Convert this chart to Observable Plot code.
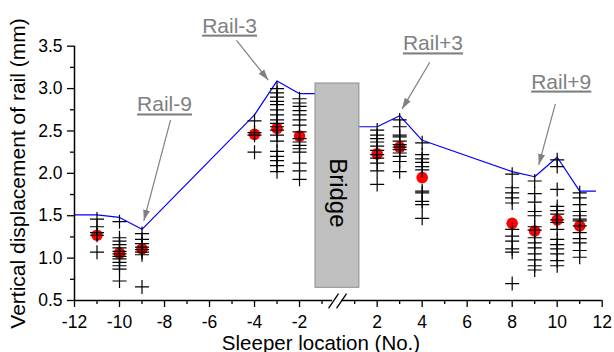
<!DOCTYPE html>
<html><head><meta charset="utf-8">
<script src="https://cdn.jsdelivr.net/npm/d3@7"></script>
<script src="https://cdn.jsdelivr.net/npm/@observablehq/plot@0.6"></script>
<style>
body{margin:0;background:#fff;}
#chart svg{display:block;}
</style></head><body><div id="chart"></div>
<script>
// ---- data (sleeper location No., vertical displacement mm) ----
const envelopeX = [-12, -11, -10, -9, -4, -3, -2, -1.29, null, 1.21, 2, 3, 4, 8, 9, 10, 11, 11.7];
const envelopeY = [1.51, 1.51, 1.48, 1.34, 2.69, 3.09, 2.94, 2.94, null, 2.55, 2.55, 2.68, 2.39, 2.02, 1.96, 2.19, 1.79, 1.79];

const meanX = [-11, -10, -9, -4, -3, -2, 2, 3, 4, 8, 9, 10, 11];
const meanY = [1.27, 1.06, 1.11, 2.46, 2.53, 2.44, 2.23, 2.31, 1.95, 1.41, 1.32, 1.45, 1.38];

const crossLocations = [-11, -10, -9, -4, -3, -2, 2, 3, 4, 8, 9, 10, 11];
const crossValues = [
  [1.46, 1.37, 1.30, 1.27, 1.07],
  [1.43, 1.24, 1.20, 1.16, 1.12, 1.08, 1.05, 1.02, 0.99, 0.95, 0.91, 0.87, 0.73],
  [1.29, 1.22, 1.17, 1.13, 1.10, 1.07, 1.04, 0.66],
  [2.62, 2.48, 2.45, 2.25],
  [3.00, 2.95, 2.90, 2.85, 2.81, 2.75, 2.69, 2.63, 2.59, 2.55, 2.51, 2.45, 2.38, 2.26, 2.20, 2.15, 2.09, 2.02],
  [2.88, 2.83, 2.79, 2.74, 2.69, 2.63, 2.57, 2.49, 2.41, 2.37, 2.33, 2.29, 2.25, 2.12, 2.03, 1.93],
  [2.51, 2.45, 2.41, 2.37, 2.32, 2.27, 2.22, 2.18, 2.12, 2.03, 1.87],
  [2.63, 2.55, 2.45, 2.43, 2.38, 2.34, 2.31, 2.28, 2.24, 2.20, 2.14, 2.02],
  [2.36, 2.22, 2.17, 2.13, 2.08, 2.04, 1.79, 1.77, 1.67, 1.63, 1.47],
  [1.99, 1.83, 1.77, 1.71, 1.65, 1.34, 1.26, 1.20, 1.11, 1.07, 0.70],
  [1.91, 1.76, 1.66, 1.55, 1.50, 1.37, 1.33, 1.24, 1.18, 1.12, 1.05, 0.98, 0.91, 0.86],
  [2.16, 2.08, 1.81, 1.61, 1.56, 1.52, 1.45, 1.42, 1.34, 1.22, 1.16, 1.11, 1.05, 0.97, 0.91],
  [1.77, 1.71, 1.63, 1.55, 1.50, 1.46, 1.44, 1.38, 1.30, 1.23, 1.18, 1.09, 1.01]
];

const bridgeSpan = [-1.29, 1.21];
const bridgeLevels = [0.65, 3.06];
const bridgeLabel = ["Bridge"];
const bridgeLabelPos = [-0.31, 1.77];

const railLabels = ["Rail-9", "Rail-3", "Rail+3", "Rail+9"];
const railLabelX = [-8.0, -5.11, 4.48, 10.18];
const railLabelY = [2.81, 3.74, 3.53, 3.08];
const arrowFromX = [-7.73, -4.8, 4.34, 9.92];
const arrowFromY = [2.63, 3.57, 3.31, 2.82];
const arrowToX = [-8.92, -3.39, 3.11, 9.18];
const arrowToY = [1.44, 3.10, 2.76, 2.10];

const xMajorTicks = [-12, -10, -8, -6, -4, -2, 2, 4, 6, 8, 10, 12];
const xMinorTicks = [-11, -9, -7, -5, -3, -1, 1, 3, 5, 7, 9, 11];
const yMajorTicks = [0.5, 1.0, 1.5, 2.0, 2.5, 3.0, 3.5];
const yMinorTicks = [0.75, 1.25, 1.75, 2.25, 2.75, 3.25];

// axis break (in axis units, around the removed span near 0)
const breakGapU = [-0.53, -0.13];
const slashX1 = [-0.711, -0.356], slashX2 = [-0.267, 0.089];
const slashY1 = [0.406, 0.406], slashY2 = [0.582, 0.582];

// ---- broken x-axis mapping ----
const GAP = 0.55;
const toAxis = x => x > 0 ? x - GAP : x;
const fromAxis = u => u > -0.2 ? u + GAP : u;

const envelope = envelopeX.map((x, i) => ({x: x == null ? null : toAxis(x), y: envelopeY[i]}));
const means = meanX.map((x, i) => ({x: toAxis(x), y: meanY[i]}));
const crosses = crossLocations.flatMap((x, i) => crossValues[i].map(v => ({x: toAxis(x), y: v})));
const rails = railLabels.map((t, i) => ({t, x: toAxis(railLabelX[i]), y: railLabelY[i],
  x1: toAxis(arrowFromX[i]), y1: arrowFromY[i], x2: toAxis(arrowToX[i]), y2: arrowToY[i]}));
const slashes = slashX1.map((d, i) => ({x1: slashX1[i], x2: slashX2[i], y1: slashY1[i], y2: slashY2[i]}));

function filledArrow(color) {
  const ns = "http://www.w3.org/2000/svg";
  const m = document.createElementNS(ns, "marker");
  m.setAttribute("viewBox", "-11 -4 11 8");
  m.setAttribute("markerWidth", "11");
  m.setAttribute("markerHeight", "8");
  m.setAttribute("markerUnits", "userSpaceOnUse");
  m.setAttribute("orient", "auto");
  m.setAttribute("refX", "0");
  m.setAttribute("refY", "0");
  const p = document.createElementNS(ns, "path");
  p.setAttribute("d", "M-11,-3.5L0,0L-11,3.5Z");
  p.setAttribute("fill", color);
  p.setAttribute("stroke", "none");
  m.appendChild(p);
  return m;
}

const chart = Plot.plot({
  width: 614, height: 352,
  marginLeft: 74, marginRight: 12.3, marginTop: 45.7, marginBottom: 52,
  x: {domain: [-12, toAxis(12)], axis: null},
  y: {domain: [0.5, 3.5], axis: null},
  style: {fontFamily: "'Liberation Sans', Arial, sans-serif", fontSize: "17.5px", color: "black", background: "white", overflow: "visible"},
  marks: [
    Plot.line(envelope, {x: "x", y: "y", stroke: "#0000ff", strokeWidth: 1.2}),
    Plot.rect([0], {x1: toAxis(bridgeSpan[0]), x2: toAxis(bridgeSpan[1]), y1: bridgeLevels[0], y2: bridgeLevels[1], fill: "#c0c0c0", stroke: "#8c8c8c", strokeWidth: 1}),
    Plot.text(bridgeLabel, {x: toAxis(bridgeLabelPos[0]), y: bridgeLabelPos[1], text: d => d, rotate: 90, fontSize: 24, fill: "black"}),
    Plot.dot(means, {x: "x", y: "y", r: 5.8, fill: "#ff0000", stroke: "none"}),
    Plot.dot(crosses, {x: "x", y: "y", symbol: "plus", r: 4.6, stroke: "black", strokeWidth: 1.2}),
    Plot.text(rails, {x: "x", y: "y", text: "t", fill: "#808080", fontSize: 21}),
    Plot.link(rails, {x1: "x1", y1: "y1", x2: "x2", y2: "y2", stroke: "#808080", strokeWidth: 1.2, markerEnd: filledArrow}),
    // axes
    Plot.ruleX([-12], {y1: 0.5, y2: 3.5, stroke: "black", strokeWidth: 1.5}),
    Plot.ruleY([0.5], {x1: -12, x2: breakGapU[0], stroke: "black", strokeWidth: 1.5}),
    Plot.ruleY([0.5], {x1: breakGapU[1], x2: toAxis(12), stroke: "black", strokeWidth: 1.5}),
    Plot.link(slashes, {x1: "x1", y1: "y1", x2: "x2", y2: "y2", stroke: "black", strokeWidth: 1.3}),
    Plot.axisY(yMajorTicks, {tickSize: 7, tickPadding: 5, tickFormat: d3.format(".1f"), label: null, strokeWidth: 1.3}),
    Plot.axisY(yMinorTicks, {tickSize: 4, tickFormat: () => "", label: null, strokeWidth: 1.3}),
    Plot.axisX(xMajorTicks.map(toAxis), {tickSize: 7, tickPadding: 8, tickFormat: u => String(Math.round(fromAxis(u))), label: null, strokeWidth: 1.3}),
    Plot.axisX(xMinorTicks.map(toAxis), {tickSize: 4, tickFormat: () => "", label: null, strokeWidth: 1.3})
  ]
});

const svg = d3.select(chart);
svg.selectAll("text").filter(function () { return this.textContent.startsWith("Rail"); })
  .style("text-decoration", "underline");
svg.append("text")
  .attr("transform", "translate(25,173.5) rotate(-90)")
  .attr("text-anchor", "middle")
  .style("font-size", "21px")
  .attr("fill", "black")
  .text("Vertical displacement of rail (mm)");
svg.append("text")
  .attr("x", 321).attr("y", 349.5)
  .attr("text-anchor", "middle")
  .style("font-size", "20.5px")
  .attr("fill", "black")
  .text("Sleeper location (No.)");

document.getElementById("chart").appendChild(chart);
</script></body></html>
